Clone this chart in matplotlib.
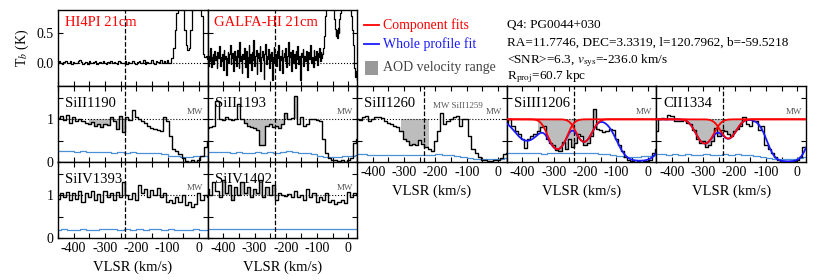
import numpy as np
import matplotlib
matplotlib.use('Agg')
import matplotlib.pyplot as plt
from matplotlib.lines import Line2D
from matplotlib.patches import Rectangle
from matplotlib.ticker import MultipleLocator, FixedLocator, FixedFormatter

plt.rcParams['font.family'] = ['Liberation Serif', 'DejaVu Serif']
plt.rcParams['mathtext.fontset'] = 'stix'
plt.rcParams['font.size'] = 10
plt.rcParams['axes.unicode_minus'] = False

# ---------------- data ----------------
vsys = -236.0

vel = [-450, -440, -430, -420, -410, -400, -390, -380, -370, -360,
       -350, -340, -330, -320, -310, -300, -290, -280, -270, -260,
       -250, -240, -230, -220, -210, -200, -190, -180, -170, -160,
       -150, -140, -130, -120, -110, -100, -90, -80, -70, -60,
       -50, -40, -30, -20, -10, 0, 10, 20, 30]

err_vel = [-450, -430, -410, -390, -370, -350, -330, -310, -290, -270,
           -250, -230, -210, -190, -170, -150, -130, -110, -90, -70,
           -50, -30, -10, 10, 30]

flux_SiII1190 = [1.02, 1.08, 0.98, 1.10, 0.92, 1.05, 0.95, 1.00, 0.97, 0.92,
                 0.90, 0.93, 0.85, 0.88, 0.82, 0.90, 0.86, 1.05, 0.95, 0.78,
                 1.08, 0.70, 1.05, 0.98, 1.22, 1.05, 1.00, 0.95, 0.92, 0.85,
                 0.80, 0.78, 0.75, 0.72, 1.05, 0.95, 0.60, 0.30, 0.25, 0.18,
                 0.10, 0.02, 0.00, 0.05, 0.00, 0.05, 0.15, 0.35, 0.50]
flux_SiII1193 = [0.80, 0.82, 0.85, 1.42, 1.00, 0.98, 1.05, 1.00, 0.98, 1.00,
                 1.35, 1.00, 0.92, 0.85, 0.82, 0.80, 0.75, 0.40, 0.40, 0.85,
                 0.88, 0.82, 0.85, 0.80, 0.90, 1.15, 1.00, 1.02, 1.55, 0.90,
                 1.05, 0.85, 0.90, 1.00, 1.00, 0.98, 0.95, 0.55, 0.20, 0.10,
                 0.05, 0.05, 0.02, 0.05, 0.00, 0.05, 0.10, 0.45, 0.55]
flux_SiIV1393 = [0.92, 1.05, 0.95, 1.08, 0.88, 1.05, 0.92, 1.10, 0.85, 1.05,
                 0.95, 1.10, 0.90, 1.02, 0.85, 1.10, 0.95, 1.05, 0.88, 1.08,
                 0.95, 1.30, 1.00, 0.92, 1.05, 0.88, 1.25, 1.05, 1.15, 0.95,
                 1.12, 1.00, 1.18, 0.95, 1.05, 0.85, 0.88, 0.82, 0.95, 0.85,
                 1.00, 0.78, 0.85, 0.72, 0.80, 1.05, 0.90, 1.00, 0.95]
flux_SiIV1402 = [1.15, 1.00, 1.30, 1.10, 0.95, 1.35, 1.05, 1.25, 0.90, 1.20,
                 1.00, 1.30, 1.05, 1.20, 0.95, 1.15, 1.05, 1.35, 0.95, 1.20,
                 1.00, 1.25, 0.90, 1.05, 1.00, 0.98, 1.02, 0.95, 1.10, 0.95,
                 1.00, 0.90, 1.15, 0.95, 1.05, 0.85, 0.95, 0.90, 1.05, 0.85,
                 0.90, 0.80, 0.85, 0.90, 0.82, 1.08, 0.95, 1.05, 1.00]
flux_SiII1260 = [1.00, 0.98, 1.05, 1.08, 0.95, 1.00, 1.05, 1.05, 1.02, 0.95,
                 0.92, 0.88, 0.85, 0.82, 0.72, 0.55, 0.50, 0.40, 0.42, 0.40,
                 0.52, 0.42, 0.35, 0.30, 0.25, 0.50, 0.72, 1.15, 0.88, 0.95,
                 1.00, 1.05, 1.08, 0.85, 1.00, 1.00, 0.60, 0.30, 0.20, 0.12,
                 0.05, 0.05, 0.03, 0.02, 0.05, 0.05, 0.10, 0.18, 0.20]
flux_SiIII1206 = [0.90, 1.00, 0.85, 0.72, 0.65, 0.55, 0.32, 0.55, 0.62, 0.65,
                  0.72, 0.82, 0.85, 0.55, 0.45, 0.40, 0.28, 0.25, 0.48, 0.30,
                  0.55, 0.35, 0.45, 0.65, 0.62, 0.40, 0.45, 0.60, 1.25, 0.78,
                  0.75, 0.70, 0.72, 0.78, 0.75, 0.55, 0.40, 0.25, 0.12, 0.05,
                  0.02, 0.00, 0.02, 0.00, 0.03, 0.02, 0.05, 0.22, 0.30]
flux_CII1334 = [0.72, 1.00, 1.02, 1.00, 1.10, 1.08, 0.95, 0.97, 0.95, 1.00,
                0.92, 0.88, 0.75, 0.55, 0.45, 0.50, 0.35, 0.40, 0.50, 0.80,
                0.62, 0.75, 0.72, 0.65, 0.60, 0.72, 0.78, 0.85, 1.05, 0.88,
                0.85, 0.95, 0.95, 0.75, 0.85, 0.40, 0.30, 0.20, 0.12, 0.05,
                0.02, 0.02, 0.00, 0.02, 0.03, 0.05, 0.12, 0.35, 0.35]

err_SiII1190 = [0.26, 0.26, 0.25, 0.24, 0.25, 0.24, 0.23, 0.24, 0.23, 0.22,
                0.24, 0.22, 0.23, 0.22, 0.22, 0.21, 0.20, 0.18, 0.15, 0.13,
                0.12, 0.12, 0.13, 0.14, 0.15]
err_SiII1193 = [0.23, 0.23, 0.24, 0.23, 0.22, 0.23, 0.22, 0.22, 0.23, 0.22,
                0.23, 0.22, 0.24, 0.25, 0.24, 0.22, 0.21, 0.18, 0.14, 0.12,
                0.12, 0.12, 0.13, 0.15, 0.17]
err_SiIV1393 = [0.19, 0.20, 0.19, 0.19, 0.20, 0.19, 0.19, 0.20, 0.21, 0.20,
                0.19, 0.20, 0.19, 0.20, 0.19, 0.20, 0.20, 0.19, 0.20, 0.19,
                0.18, 0.19, 0.20, 0.19, 0.19]
err_SiIV1402 = [0.21, 0.22, 0.21, 0.21, 0.22, 0.21, 0.21, 0.21, 0.20, 0.21,
                0.20, 0.20, 0.21, 0.20, 0.21, 0.20, 0.21, 0.20, 0.20, 0.21,
                0.20, 0.20, 0.21, 0.20, 0.20]
err_SiII1260 = [0.18, 0.18, 0.17, 0.17, 0.16, 0.17, 0.16, 0.16, 0.17, 0.17,
                0.16, 0.17, 0.17, 0.18, 0.17, 0.16, 0.15, 0.12, 0.09, 0.07,
                0.06, 0.06, 0.07, 0.08, 0.10]
err_SiIII1206 = [0.22, 0.21, 0.20, 0.20, 0.21, 0.20, 0.19, 0.20, 0.20, 0.21,
                 0.20, 0.20, 0.21, 0.20, 0.20, 0.19, 0.18, 0.16, 0.13, 0.12,
                 0.12, 0.12, 0.13, 0.14, 0.16]
err_CII1334 = [0.18, 0.18, 0.17, 0.18, 0.17, 0.18, 0.17, 0.17, 0.18, 0.17,
               0.17, 0.18, 0.17, 0.18, 0.17, 0.16, 0.14, 0.12, 0.10, 0.08,
               0.07, 0.07, 0.08, 0.10, 0.12]

# AOD integration ranges (km/s)
aod_SiII1190 = (-350, -225)
aod_SiII1193 = (-340, -155)
aod_SiIV1393 = (-245, -230)
aod_SiIV1402 = (-400, -230)
aod_SiII1260 = (-310, -218)
aod_SiIII1206 = (-350, -160)
aod_CII1334 = (-360, -165)

# Fit components: centre (km/s), central optical depth, b (km/s)
comp_SiIII1206_v = [-288, -203]
comp_SiIII1206_tau = [1.2, 0.75]
comp_SiIII1206_b = [33, 30]
other_SiIII1206_v = [-385, -25]
other_SiIII1206_tau = [0.7, 3.5]
other_SiIII1206_b = [47, 58]

comp_CII1334_v = [-295, -220]
comp_CII1334_tau = [0.84, 0.6]
comp_CII1334_b = [34, 31]
other_CII1334_v = [-30]
other_CII1334_tau = [4.2]
other_CII1334_b = [50]

# HI 21cm spectra (brightness temperature, K)
hi4pi_tb = [0.01, -0.01, 0.02, 0.00, -0.02, 0.01, 0.03, -0.01, 0.00, 0.02,
            -0.02, 0.01, 0.00, -0.01, 0.02, 0.05, 0.01, -0.02, 0.00, 0.01,
            -0.03, 0.02, 0.00, -0.01, 0.01, 0.02, -0.02, 0.00, 0.01, -0.01,
            0.03, 0.00, -0.02, 0.01, 0.00, 0.02, -0.01, 0.01, 0.00, -0.02,
            0.02, 0.01, -0.01, 0.00, 0.02, -0.02, 0.01, 0.00, -0.01, 0.03,
            0.00, -0.02, 0.01, 0.02, -0.01, 0.00, 0.04, -0.02, 0.01, 0.00,
            -0.01, 0.05, 0.00, -0.02, 0.03, 0.01, -0.01, 0.04, 0.00, 0.02,
            -0.01, 0.05, 0.00, -0.01,
            0.08, 0.25, 0.55, 0.85, 1.4, 2.2, 1.9, 1.0, 0.55, 0.30,
            0.22, 0.25, 0.55, 1.0, 2.0, 2.8, 3.0, 2.4, 1.5, 0.8,
            0.15, 0.10, 0.12, 0.06]
galfa_tb = [0.18, 0.05, 0.22, -0.05, 0.12, 0.02, 0.25, -0.08, 0.10, 0.15,
            -0.02, 0.20, 0.05, 0.12, -0.10, 0.18, 0.08, 0.28, -0.05, 0.10,
            0.02, 0.15, -0.12, 0.22, 0.06, 0.12, -0.22, 0.08, 0.18, 0.00,
            0.14, 0.30, -0.02, 0.08, 0.16, -0.15, 0.20, 0.04, 0.12, -0.06,
            0.22, 0.10, -0.10, 0.35, 0.02, 0.12, -0.18, 0.15, 0.06, 0.25,
            -0.08, 0.12, 0.20, -0.25, 0.10, 0.30, 0.00, 0.15, -0.12, 0.18,
            0.05, 0.38, -0.05, 0.12, 0.22, -0.20, 0.08, 0.16, 0.02, 0.28,
            -0.15, 0.10, 0.20, 0.04, -0.28, 0.15, 0.32, -0.02, 0.12, 0.06,
            0.24, -0.10, 0.14, 0.02, 0.18, -0.30, 0.10, 0.26, 0.00, 0.15,
            -0.06, 0.20, 0.08, 0.30, -0.12, 0.12, 0.05, 0.22, -0.18, 0.10,
            0.16, 0.02, 0.25, -0.08, 0.12, 0.35, -0.04, 0.10, 0.18, -0.15,
            0.08, 0.22, 0.00, 0.14, -0.10, 0.20, 0.06, 0.28, -0.02, 0.12,
            0.04, -0.30, 0.16, 0.10, 0.24, -0.05, 0.12, 0.02, 0.20, 0.08,
            -0.12, 0.18, 0.06, 0.14, 0.30, 0.00, 0.10, -0.08, 0.22, 0.12,
            0.05, 0.20, -0.04, 0.16, 0.10, 0.25, 0.02, 0.18, 0.08,
            0.15, 0.25, 0.45, 0.65, 0.80, 1.0, 1.8, 2.2, 2.5,
            2.4, 2.1, 1.8, 1.5, 1.2, 0.95, 0.75, 0.58, 0.45,
            0.55, 0.42, 0.60, 0.50, 0.75, 0.85, 1.0, 1.3, 1.6,
            2.0, 2.4, 2.6, 2.7, 2.6, 2.4, 2.1, 1.8, 1.4,
            1.0, 0.8, 0.55, 0.30, 0.05, -0.10, -0.25, -0.15, -0.30,
            -0.20]
hi_vmin, hi_vmax = -455, 30

legend_labels = ['Component fits', 'Whole profile fit', 'AOD velocity range']
info_lines = ['Q4: PG0044+030',
              'RA=11.7746, DEC=3.3319, l=120.7962, b=-59.5218',
              r'<SNR>=6.3, $v_{\rm sys}$=-236.0 km/s',
              r'R$_{\rm proj}$=60.7 kpc']

# ---------------- figure ----------------
XLIM = (-450, 28)
RED = '#ff0000'
BLUE = '#1a1aff'
ERRC = '#4a90d9'
FILLC = '#bdbdbd'

fig = plt.figure(figsize=(8.3, 2.8), dpi=100)
gs = fig.add_gridspec(3, 5, left=58/830, right=806/830, top=1-10/280,
                      bottom=1-238/280, hspace=0, wspace=0)


def style(ax, labelbottom, labelleft):
    ax.set_xlim(*XLIM)
    ax.xaxis.set_major_locator(MultipleLocator(100))
    ax.xaxis.set_minor_locator(MultipleLocator(50))
    ax.tick_params(which='both', direction='in', top=True, right=True,
                   length=3.5, width=0.8, labelsize=10,
                   labelbottom=labelbottom, labelleft=labelleft, pad=3)
    for s in ax.spines.values():
        s.set_linewidth(1.0)
    if labelbottom:
        ax.set_xlabel('VLSR (km/s)', fontsize=10.5, labelpad=4)


def tau_profile(v, vc, tau0, b):
    return tau0 * np.exp(-((v - vc) / b) ** 2)


# HI panels
vel_arr = np.array(vel, dtype=float)
for col, (tb, label) in enumerate([(hi4pi_tb, 'HI4PI 21cm'), (galfa_tb, 'GALFA-HI 21cm')]):
    ax = fig.add_subplot(gs[0, col])
    v_hi = np.linspace(hi_vmin, hi_vmax, len(tb))
    ax.plot(v_hi, tb, color='k', lw=0.9, drawstyle='steps-mid')
    ax.axhline(0, color='k', ls=':', lw=0.8)
    ax.axvline(vsys, color='k', ls='--', lw=0.9)
    ax.set_ylim(-0.4, 0.9)
    style(ax, False, col == 0)
    ax.tick_params(axis='x', which='both', top=False)
    ax.yaxis.set_major_locator(FixedLocator([0.0, 0.5]))
    ax.yaxis.set_major_formatter(FixedFormatter(['0.0', '0.5']))
    ax.text(0.045, 0.83, label, transform=ax.transAxes, color=RED,
            fontsize=10.5, ha='left', va='center')
    if col == 0:
        ax.set_ylabel(r'T$_b$ (K)', fontsize=10, labelpad=4)

panels = [
    ('SiII1190', flux_SiII1190, err_SiII1190, aod_SiII1190, (1, 0), None),
    ('SiII1193', flux_SiII1193, err_SiII1193, aod_SiII1193, (1, 1), None),
    ('SiIV1393', flux_SiIV1393, err_SiIV1393, aod_SiIV1393, (2, 0), None),
    ('SiIV1402', flux_SiIV1402, err_SiIV1402, aod_SiIV1402, (2, 1), None),
    ('SiII1260', flux_SiII1260, err_SiII1260, aod_SiII1260, (1, 2), None),
    ('SiIII1206', flux_SiIII1206, err_SiIII1206, aod_SiIII1206, (1, 3),
     (comp_SiIII1206_v, comp_SiIII1206_tau, comp_SiIII1206_b,
      other_SiIII1206_v, other_SiIII1206_tau, other_SiIII1206_b)),
    ('CII1334', flux_CII1334, err_CII1334, aod_CII1334, (1, 4),
     (comp_CII1334_v, comp_CII1334_tau, comp_CII1334_b,
      other_CII1334_v, other_CII1334_tau, other_CII1334_b)),
]

v_model = np.linspace(XLIM[0], XLIM[1], 600)

for name, flux, err, aod, (r, c), fit in panels:
    ax = fig.add_subplot(gs[r, c])
    flux = np.array(flux)
    mask = (vel_arr >= aod[0]) & (vel_arr <= aod[1])
    ax.fill_between(vel_arr, flux, 1.0, where=mask, step='mid',
                    color=FILLC, lw=0, zorder=1)
    ax.plot(vel_arr, flux, color='k', lw=1.0, drawstyle='steps-mid', zorder=3)
    ax.plot(err_vel, err, color=ERRC, lw=0.9, drawstyle='steps-mid', zorder=2)
    ax.axhline(1.0, color='k', ls=':', lw=0.8, zorder=2)
    ax.axvline(vsys, color='k', ls='--', lw=0.9, zorder=4)
    if fit is not None:
        cv, ct, cb, ov, ot, ob = fit
        tau_total = np.zeros_like(v_model)
        comps = []
        for a, t, b in zip(cv, ct, cb):
            tp = tau_profile(v_model, a, t, b)
            comps.append(np.exp(-tp))
            tau_total += tp
        for a, t, b in zip(ov, ot, ob):
            tau_total += tau_profile(v_model, a, t, b)
        ax.plot(v_model, np.exp(-tau_total), color=BLUE, lw=1.3, zorder=5)
        for cp in comps:
            ax.plot(v_model, cp, color=RED, lw=1.3, zorder=6)
    ax.set_ylim(0, 1.78)
    style(ax, (r == 2) or (c >= 2), c == 0)
    ax.yaxis.set_major_locator(FixedLocator([0, 0.5, 1.0, 1.5]))
    ax.yaxis.set_major_formatter(FixedFormatter(['0', '', '1', '']))
    ax.text(0.047, 0.77, name, transform=ax.transAxes, fontsize=10.5,
            ha='left', va='center', zorder=7)
    ax.text(-12, 1.17, 'MW', fontsize=6.5, color='0.35', ha='center',
            va='center')
    if name == 'SiII1260':
        ax.text(-128, 1.31, 'MW SiII1259', fontsize=6.5, color='0.35',
                ha='center', va='center')

# legend (drawn by hand in the empty top-right area)
leg_y = [25, 44, 68]
leg_colors = [RED, BLUE, '#444444']
fig.add_artist(Line2D([364/830, 379/830], [1-leg_y[0]/280]*2, color=RED, lw=1.3,
                      transform=fig.transFigure))
fig.add_artist(Line2D([364/830, 379/830], [1-leg_y[1]/280]*2, color=BLUE, lw=1.3,
                      transform=fig.transFigure))
fig.add_artist(Rectangle((365/830, 1-75/280), 13/830, 14/280, facecolor='#999999',
                         edgecolor='none', transform=fig.transFigure))
for lab, yy, col in zip(legend_labels, leg_y, leg_colors):
    fig.text(383/830, 1 - yy/280, lab, fontsize=10, color=col,
             ha='left', va='center')

info_y = [25, 43, 61, 77]
for s, yy in zip(info_lines, info_y):
    fig.text(507/830, 1 - yy/280, s, fontsize=9.5, ha='left', va='center')

fig.savefig('out.png', dpi=100)
